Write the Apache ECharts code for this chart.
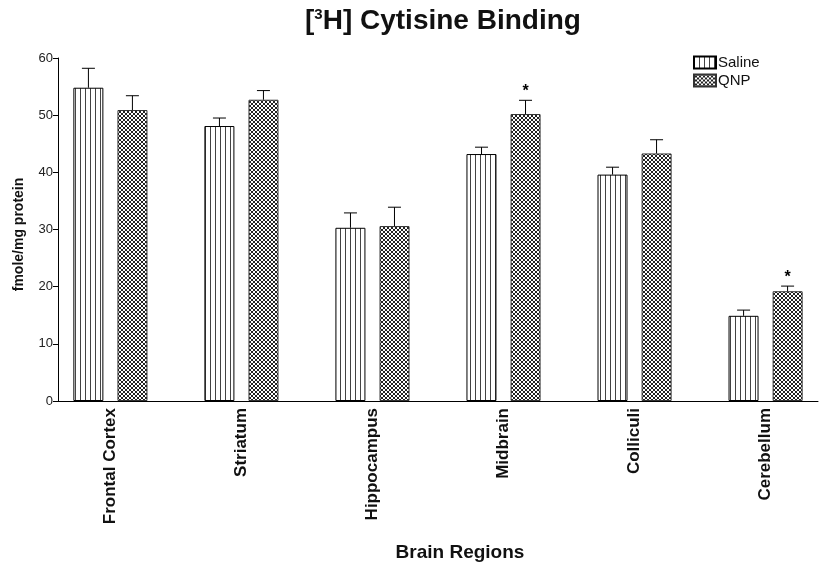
<!DOCTYPE html>
<html>
<head>
<meta charset="utf-8">
<script src="https://cdn.jsdelivr.net/npm/echarts@6/dist/echarts.min.js"></script>
<style>html,body{margin:0;padding:0;background:#fff}#c{width:823px;height:569px}</style>
</head>
<body>
<div id="c"></div>
<script>
const categories = ['Frontal Cortex','Striatum','Hippocampus','Midbrain','Colliculi','Cerebellum'];
const salineMean = [54.8, 48.1, 30.3, 43.2, 39.6, 14.9];
const salineErr  = [3.4, 1.4, 2.6, 1.2, 1.3, 1.0];
const qnpMean    = [50.9, 52.7, 30.6, 50.2, 43.3, 19.2];
const qnpErr     = [2.5, 1.6, 3.3, 2.4, 2.4, 0.9];
const qnpSignificant = [false, false, false, true, false, true];
const yTicks = [0, 10, 20, 30, 40, 50, 60];

function stripePattern() {
  const c = document.createElement('canvas');
  c.width = 5; c.height = 4;
  const g = c.getContext('2d');
  g.fillStyle = '#fff'; g.fillRect(0, 0, 5, 4);
  g.fillStyle = '#444'; g.fillRect(0, 0, 1, 4);
  return c;
}
function hatchPattern() {
  const c = document.createElement('canvas');
  c.width = 4; c.height = 4;
  const g = c.getContext('2d');
  g.fillStyle = '#fff'; g.fillRect(0, 0, 4, 4);
  g.fillStyle = '#222';
  for (let i = 0; i < 4; i++) { g.fillRect(i, i, 1, 1); g.fillRect(3 - i, i, 1, 1); }
  return c;
}
const stripeFill = { image: stripePattern(), repeat: 'repeat' };
const hatchFill = { image: hatchPattern(), repeat: 'repeat' };

const BAR_W = 30, OFFSET = 22;
const FONT = '"Liberation Sans", Arial, sans-serif';

function errSeries(name, means, errs, sig, dx) {
  return {
    type: 'custom',
    name: name + ' err',
    z: 5,
    silent: true,
    data: categories.map((c, i) => [i, means[i], means[i] + errs[i], sig ? (sig[i] ? 1 : 0) : 0]),
    renderItem: function (params, api) {
      const x = api.value(0);
      const top = api.coord([x, api.value(1)]);
      const hi = api.coord([x, api.value(2)]);
      const px = top[0] + dx;
      const children = [
        { type: 'line', shape: { x1: px, y1: top[1], x2: px, y2: hi[1] }, style: { stroke: '#000', lineWidth: 1 } },
        { type: 'line', shape: { x1: px - 6.5, y1: hi[1], x2: px + 6.5, y2: hi[1] }, style: { stroke: '#000', lineWidth: 1 } }
      ];
      if (api.value(3) === 1) {
        children.push({ type: 'text', style: { text: '*', x: px, y: hi[1] - 9, align: 'center', verticalAlign: 'middle', font: 'bold 16px ' + FONT, fill: '#000' } });
      }
      return { type: 'group', children: children };
    }
  };
}

const chart = echarts.init(document.getElementById('c'), null, { renderer: 'canvas' });
chart.setOption({
  animation: false,
  backgroundColor: '#fff',
  title: {
    text: '[{s|3}H] Cytisine Binding',
    left: 300, top: 2,
    textStyle: {
      fontFamily: FONT, fontWeight: 'bold', fontSize: 28, color: '#111',
      rich: { s: { fontFamily: FONT, fontWeight: 'bold', fontSize: 15, verticalAlign: 'top', padding: [0, 0, 12, 0], color: '#111' } }
    }
  },
  legend: {
    orient: 'vertical',
    left: 688, top: 50,
    itemWidth: 22, itemHeight: 12, itemGap: 3,
    data: ['Saline', 'QNP'],
    textStyle: { fontFamily: FONT, fontSize: 15, color: '#111', padding: [0, 0, 0, -3] },
    icon: 'rect'
  },
  grid: { left: 58, right: 5, top: 58, bottom: 168, containLabel: false, outerBoundsMode: 'none' },
  xAxis: {
    type: 'value',
    min: -0.4, max: 5.4,
    splitLine: { show: false },
    axisLine: { show: true, lineStyle: { color: '#000', width: 1 } },
    axisTick: { show: false },
    axisLabel: {
      customValues: [0, 1, 2, 3, 4, 5],
      rotate: 90,
      formatter: v => categories[Math.round(v)],
      fontFamily: FONT, fontWeight: 'bold', fontSize: 17, color: '#111', margin: 7
    },
    name: 'Brain Regions',
    nameLocation: 'middle',
    nameGap: 142,
    nameTextStyle: { fontFamily: FONT, fontWeight: 'bold', fontSize: 19, color: '#111', padding: [0, 0, 0, 44] }
  },
  yAxis: {
    type: 'value',
    min: 0, max: 60, interval: 10,
    splitLine: { show: false },
    axisLine: { show: true, onZero: false, lineStyle: { color: '#000', width: 1 } },
    axisTick: { show: true, length: 5, lineStyle: { color: '#000' } },
    axisLabel: { fontFamily: FONT, fontSize: 13, color: '#222', margin: 5, formatter: v => (yTicks.indexOf(v) >= 0 ? String(v) : '') },
    name: 'fmole/mg protein',
    nameLocation: 'middle',
    nameGap: 32,
    nameTextStyle: { fontFamily: FONT, fontWeight: 'bold', fontSize: 14, color: '#111', padding: [0, 10, 0, 0] }
  },
  series: [
    {
      name: 'Saline', type: 'bar',
      barWidth: BAR_W, barGap: '47%',
      data: categories.map((c, i) => [i, salineMean[i]]),
      itemStyle: { color: stripeFill, borderColor: '#000', borderWidth: 1 }
    },
    {
      name: 'QNP', type: 'bar',
      barWidth: BAR_W, barGap: '47%',
      data: categories.map((c, i) => [i, qnpMean[i]]),
      itemStyle: { color: hatchFill, borderColor: '#333', borderWidth: 1 }
    },
    errSeries('Saline', salineMean, salineErr, null, -OFFSET),
    errSeries('QNP', qnpMean, qnpErr, qnpSignificant, OFFSET)
  ]
});
</script>
</body>
</html>
